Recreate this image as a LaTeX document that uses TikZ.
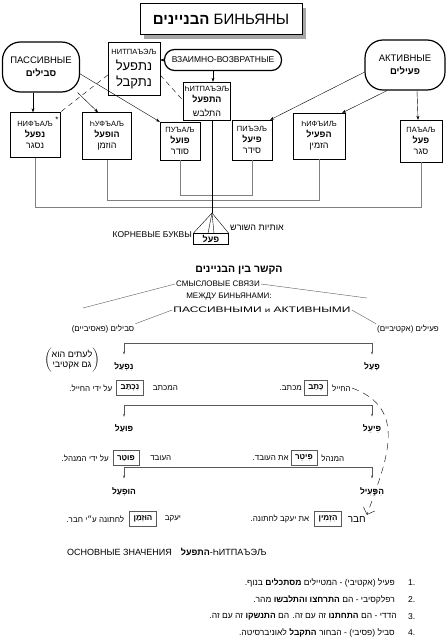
\documentclass[tikz,border=0pt]{standalone}
\usepackage{graphicx}
\usepackage{fontspec}
\setmainfont{Liberation Sans}
\newfontfamily\hebfont[Script=Hebrew]{Liberation Sans}
\TeXXeTstate=1
\newcommand{\heb}[1]{{\hebfont\beginR #1\endR}}
\newcommand{\tagfont}{\fontsize{7.5}{8}\selectfont}
\usetikzlibrary{positioning,shadows,arrows.meta}

\tikzset{
  binbox/.style={draw, thin, align=center, inner sep=1pt, font=\fontsize{9}{11}\selectfont},
  oval/.style={draw, very thick, rounded corners=18pt, align=center},
  link/.style={-{Stealth[length=4pt,width=3pt]}, thin},
  dlink/.style={dash pattern=on 5pt off 4pt, thin},
  bracket/.style={gray, thin},
  tick/.style={{Stealth[length=3pt,width=2pt]}-{Stealth[length=3pt,width=2pt]}, gray!70!black, thin},
  sub/.style={font=\fontsize{8}{9}\selectfont, inner sep=1pt},
  bname/.style={font=\fontsize{8.5}{10}\selectfont\bfseries, inner sep=1pt},
  ex/.style={font=\fontsize{8}{9}\selectfont, inner sep=1pt},
  exbox/.style={draw=gray!70!black, thin, font=\fontsize{8}{9}\selectfont\bfseries, minimum height=15pt, inner xsep=4pt},
  item/.style={font=\fontsize{8.5}{10}\selectfont, inner sep=1pt},
}

\begin{document}
\begin{tikzpicture}[x=1pt, y=-1pt]
\useasboundingbox (0,0) rectangle (447,640);
% binyanim scheme
\node[draw, thick, fill=white, drop shadow={shadow xshift=4pt, shadow yshift=-4pt, fill=gray!70, opacity=1},
  minimum width=162pt, minimum height=31pt, font=\fontsize{15}{16}\selectfont] (title) at (221,19)
  {\heb{\textbf{הבניינים}} БИНЬЯНЫ};

\node[oval, minimum width=77pt, minimum height=50pt, font=\fontsize{9.5}{13}\selectfont] (passive) at (41,67)
  {ПАССИВНЫЕ\\ \heb{\textbf{סבילים}}};
\node[oval, minimum width=80pt, minimum height=50pt, font=\fontsize{9.5}{13}\selectfont] (active) at (405,65)
  {АКТИВНЫЕ\\ \heb{\textbf{פעילים}}};
\node[oval, rounded corners=10pt, minimum width=117pt, minimum height=21pt, inner sep=1pt, font=\fontsize{8.5}{9}\selectfont] (mutual) at (223,60)
  {ВЗАИМНО-ВОЗВРАТНЫЕ};

\node[binbox, minimum width=52pt, minimum height=53pt, font=\fontsize{13}{16}\selectfont] (nitpael) at (134,69)
  {{\tagfont НИТПАЪЭЉ}\\ \heb{נתפעל}\\ \heb{נתקבל}};
\node[binbox, minimum width=42pt, minimum height=38pt] (hitpael) at (207,101)
  {{\tagfont ҺИТПАЪЭЉ}\\ \heb{\textbf{התפעל}}\\[3pt] \heb{התלבש}};

\node[binbox, minimum width=50pt, minimum height=45pt] (nifal) at (35,135)
  {{\tagfont НИФЪАЉ}\\ \heb{\textbf{נפעל}}\\ \heb{נסגר}};
\node[inner sep=0pt, font=\fontsize{8}{8}\selectfont] (star) at (57,120) {*};
\node[binbox, minimum width=49pt, minimum height=47pt] (hufal) at (107,136)
  {{\tagfont ҺУФЪАЉ}\\ \heb{\textbf{הופעל}}\\ \heb{הוזמן}};
\node[binbox, minimum width=40pt, minimum height=38pt] (pual) at (180,141)
  {{\tagfont ПУЪАЉ}\\ \heb{\textbf{פועל}}\\ \heb{סודר}};
\node[binbox, minimum width=40pt, minimum height=40pt] (piel) at (252,140)
  {{\tagfont ПИЪЭЉ}\\ \heb{\textbf{פיעל}}\\ \heb{סידר}};
\node[binbox, minimum width=52pt, minimum height=46pt] (hifil) at (319,136)
  {{\tagfont ҺИФЪИЉ}\\ \heb{\textbf{הפעיל}}\\ \heb{הזמין}};
\node[binbox, minimum width=42pt, minimum height=42pt] (paal) at (421,141)
  {{\tagfont ПАЪАЉ}\\ \heb{\textbf{פעל}}\\ \heb{סגר}};

\draw[link] ([xshift=-8pt]passive.south) -- ([xshift=-2pt]nifal.north);
\draw[link] (passive.-35) -- ([xshift=-9pt]hufal.north);
\draw[link] (passive.-10) -- (pual.north west);
\draw[link] (active.190) -- ([xshift=-2pt]piel.north east);
\draw[link] (active.-125) -- ([xshift=-3pt]hifil.north east);
\draw[link] ([xshift=12pt]active.south) -- ([xshift=-3pt]paal.north);
\draw[link] (mutual.west) -- (nitpael.east |- mutual.west);
\draw[link] ([xshift=-10pt]mutual.south) -- ([xshift=6pt]hitpael.north);
\draw[dlink] ([yshift=-6pt]nitpael.west) -- (nifal.north east);
\draw[dlink] ([yshift=-6pt]nitpael.east) -- (hitpael.west);

\draw[bracket] (pual.south) -- ++(0,35) -| (piel.south);
\draw[bracket] (hufal.south) -- ++(0,40) -| (hifil.south);
\draw[bracket] (nifal.south) -- ++(0,49) -| (paal.south);

% root letters
\coordinate (apex) at (212,213);
\node[draw, thin, minimum width=35pt, minimum height=11pt, inner sep=1pt, font=\fontsize{9}{10}\selectfont\bfseries] (root) at (211,239) {\heb{פעל}};
\draw ([xshift=5pt]hitpael.south) -- (apex);
\draw (apex) -- (root.north west);
\draw (apex) -- ([xshift=-3pt]root.north);
\draw (apex) -- ([xshift=3pt]root.north);
\draw (apex) -- (root.north east);
\node[anchor=east, font=\fontsize{8.5}{9}\selectfont, inner sep=1pt] (rootru) at (193,235) {КОРНЕВЫЕ БУКВЫ};
\node[anchor=west, font=\fontsize{9}{10}\selectfont, inner sep=1pt] (roothe) at (229,228) {\heb{אותיות השורש}};

% links between binyanim
\node[font=\fontsize{10.5}{12}\selectfont\bfseries] (links) at (239,270) {\heb{הקשר בין הבניינים}};
\node[sub] (sv1) at (218,284) {СМЫСЛОВЫЕ СВЯЗИ};
\node[sub] (sv2) at (229,297) {МЕЖДУ БИНЬЯНАМИ:};
\node[sub] (sv3) at (262,310) {\scalebox{1.5}[1]{ПАССИВНЫМИ {\fontsize{6.5}{7}\selectfont и} АКТИВНЫМИ}};
\node[ex] (passhe) at (103,329) {\heb{סבילים (פאסיביים)}};
\node[ex] (acthe) at (408,329) {\heb{פעילים (אקטיביים)}};
\draw[gray!70!black] (sv1.west) -- (83,308);
\draw[gray!70!black] (sv1.east) -- (367,298);
\draw[gray!70!black] (sv3.west) -- (passhe.north east);
\draw[gray!70!black] (sv3.east) -- (acthe.north west);

% pa'al / nif'al
\node[bname] (paalL) at (372,367) {\heb{פָּעַל}};
\node[bname] (nifalL) at (124,367) {\heb{נִפְעַל}};
\draw[tick] ([yshift=7pt]nifalL.north) -- ([yshift=18pt]nifalL.north) -| ([yshift=7pt]paalL.north);
\node[font=\fontsize{9}{10}\selectfont, inner sep=0pt] (sometimes) at (72,360)
  {$\left(\begin{tabular}{@{}c@{}}\heb{לעתים הוא}\\ \heb{גם אקטיבי}\end{tabular}\right)$};

\node[exbox] (nikhtav) at (130,388) {\heb{נִכְתַּב}};
\node[ex, left=3pt of nikhtav] (nikhtavL) {\heb{על ידי החייל.}};
\node[ex, right=8pt of nikhtav] (nikhtavR) {\heb{המכתב}};
\node[exbox] (katav) at (316,388) {\heb{כָּתַב}};
\node[ex, left=1pt of katav] (katavL) {\heb{מכתב.}};
\node[ex, right=3pt of katav] (katavR) {\heb{החייל}};

% pi'el / pu'al
\node[bname] (pielL) at (372,429) {\heb{פִּיעֵל}};
\node[bname] (pualL) at (124,429) {\heb{פּוּעַל}};
\draw[tick] ([yshift=7pt]pualL.north) -- ([yshift=19pt]pualL.north) -| ([yshift=7pt]pielL.north);

\node[exbox] (putar) at (126,458) {\heb{פּוּטַר}};
\node[ex, left=3pt of putar] (putarL) {\heb{על ידי המנהל.}};
\node[ex, right=10pt of putar] (putarR) {\heb{העובד}};
\node[exbox] (piter) at (304,458) {\heb{פִּיטֵר}};
\node[ex, left=1pt of piter] (piterL) {\heb{את העובד.}};
\node[ex, right=3pt of piter] (piterR) {\heb{המנהל}};

% hif'il / huf'al
\node[bname] (hifilL) at (372,492) {\heb{הִפְעִיל}};
\node[bname] (hufalL) at (124,492) {\heb{הוּפְעַל}};
\draw[tick] ([yshift=8pt]hufalL.north) -- ([yshift=19pt]hufalL.north) -| ([yshift=8pt]hifilL.north);

\node[exbox] (huzman) at (143,519) {\heb{הוּזְמַן}};
\node[ex, left=4pt of huzman] (huzmanL) {\heb{לחתונה ע״י חבר.}};
\node[ex, right=7pt of huzman] (huzmanR) {\heb{יעקב}};
\node[exbox] (hizmin) at (328,519) {\heb{הִזְמִין}};
\node[ex, left=4pt of hizmin] (hizminL) {\heb{את יעקב לחתונה.}};
\node[font=\fontsize{10}{11}\selectfont, right=5pt of hizmin, inner sep=1pt] (chaver) {\heb{חבר}};

\draw[dash pattern=on 7pt off 5pt, -{Straight Barb[length=6pt]}] (katavR.east) to[out=-20, in=70, looseness=1.2] (chaver.north east);

% hitpa'el meanings
\node[anchor=west, font=\fontsize{9}{10}\selectfont, inner sep=1pt] (means) at (66,552)
  {ОСНОВНЫЕ ЗНАЧЕНИЯ\quad\heb{\textbf{התפעל}}-ҺИТПАЪЭЉ};
\node[item, anchor=east] (m1) at (396,583) {\heb{פעיל (אקטיבי) - המטיילים \textbf{מסתכלים} בנוף.}};
\node[item, anchor=east] (m2) at (396,600) {\heb{רפלקסיבי - הם \textbf{התרחצו והתלבשו} מהר.}};
\node[item, anchor=east] (m3) at (398,617) {\heb{הדדי - הם \textbf{התחתנו} זה עם זה. הם \textbf{התנשקו} זה עם זה.}};
\node[item, anchor=east] (m4) at (396,633) {\heb{סביל (פסיבי) - הבחור \textbf{התקבל} לאוניברסיטה.}};
\node[item, anchor=west] (n1) at (407,583) {1.};
\node[item, anchor=west] (n2) at (407,600) {2.};
\node[item, anchor=west] (n3) at (407,617) {3.};
\node[item, anchor=west] (n4) at (407,633) {4.};
\end{tikzpicture}
\end{document}
